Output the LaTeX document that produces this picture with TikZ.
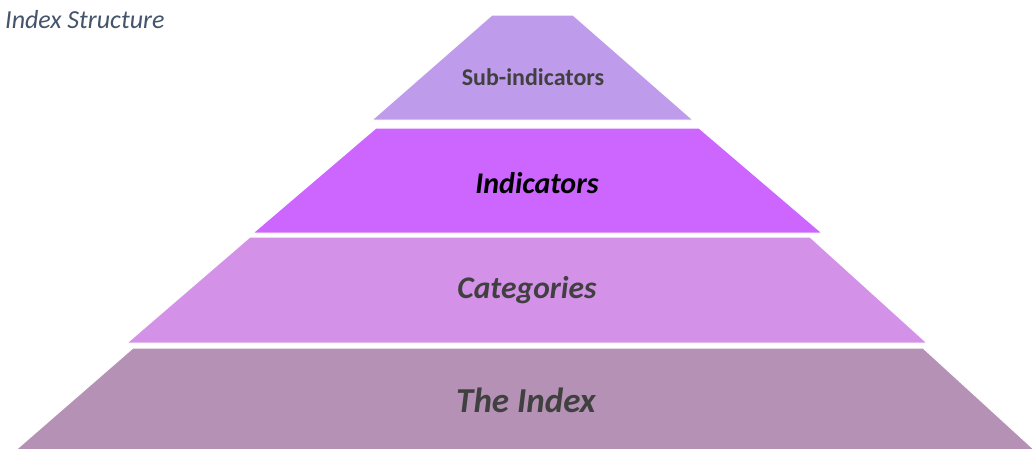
\documentclass[tikz,border=0pt]{standalone}
\usepackage{fontspec}
\setmainfont{Carlito}
\definecolor{lay1}{HTML}{BE9CEB}
\definecolor{lay2}{HTML}{CC66FF}
\definecolor{lay3}{HTML}{D491E8}
\definecolor{lay4}{HTML}{B592B5}
\definecolor{txtgrey}{HTML}{404040}
\definecolor{titleblue}{HTML}{44546A}
\tikzset{
  layer/.style={draw=white, line width=1pt},
  lbl/.style={inner sep=0pt, anchor=center},
}
\begin{document}
\begin{tikzpicture}[x=1pt,y=-1pt]
\useasboundingbox (0,0) rectangle (1032,448);
\fill[white] (0,0) rectangle (1032,448);
\filldraw[layer, fill=lay1] (492,15) -- (573,15) -- (693,120) -- (372,120) -- cycle;
\filldraw[layer, fill=lay2] (376,128) -- (699,128) -- (822,233) -- (253,233) -- cycle;
\filldraw[layer, fill=lay3] (250,237) -- (810,237) -- (927,343) -- (127,343) -- cycle;
\filldraw[layer, fill=lay4] (133,348) -- (923,348) -- (1040,455) -- (10,455) -- cycle;
\node[lbl, anchor=west, text=titleblue, font=\fontsize{26}{30}\selectfont\itshape] (title) at (5,20) {Index Structure};
\node[lbl, text=txtgrey, font=\fontsize{24}{28}\selectfont\bfseries] (sub) at (533,77) {Sub-indicators};
\node[lbl, text=black, font=\fontsize{30}{34}\selectfont\bfseries\itshape] (ind) at (537,183) {Indicators};
\node[lbl, text=txtgrey, font=\fontsize{31.5}{36}\selectfont\bfseries\itshape] (cat) at (527,290) {Categories};
\node[lbl, text=txtgrey, font=\fontsize{35}{40}\selectfont\bfseries\itshape] (idx) at (526,400) {The Index};
\end{tikzpicture}
\end{document}
